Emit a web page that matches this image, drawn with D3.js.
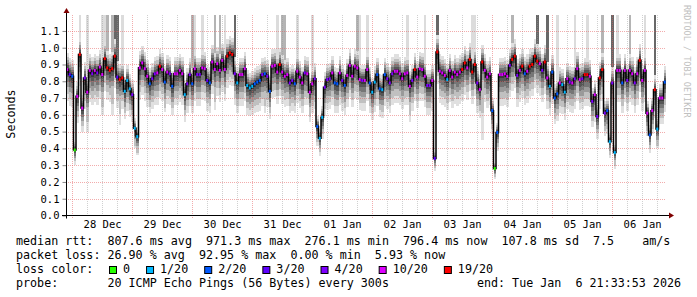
<!DOCTYPE html>
<html>
<head>
<meta charset="utf-8">
<script src="https://cdn.jsdelivr.net/npm/d3@7"></script>
<style>
  body { margin: 0; background: #fff; }
  svg { display: block; }
  text { font-family: "DejaVu Sans Mono", monospace; }
</style>
</head>
<body>
<svg id="chart"></svg>
<script>
// one value per hour, 240 hours ending at endTime (median rtt in seconds)
const medianRtt = [
  0.87,0.84,0.83,0.39,0.71,0.96,0.64,0.82,0.735,0.865,0.845,0.865,0.85,0.885,0.84,0.935,0.88,0.865,0.875,0.95,
  0.825,0.81,0.82,0.74,0.805,0.755,0.72,0.52,0.47,0.88,0.91,0.875,0.83,0.785,0.815,0.845,0.85,0.89,0.87,0.795,
  0.855,0.845,0.77,0.845,0.845,0.865,0.845,0.72,0.785,0.84,0.785,0.875,0.84,0.84,0.88,0.875,0.805,0.79,0.915,0.87,
  0.905,0.865,0.925,0.87,0.95,0.97,0.96,0.845,0.79,0.84,0.84,0.875,0.775,0.76,0.77,0.785,0.795,0.805,0.84,0.845,
  0.83,0.74,0.89,0.895,0.855,0.9,0.855,0.83,0.84,0.79,0.805,0.785,0.86,0.825,0.79,0.85,0.845,0.735,0.785,0.815,
  0.53,0.46,0.585,0.765,0.81,0.815,0.85,0.79,0.785,0.85,0.805,0.775,0.835,0.895,0.83,0.89,0.88,0.81,0.805,0.805,
  0.87,0.79,0.735,0.795,0.84,0.755,0.75,0.84,0.815,0.79,0.845,0.86,0.86,0.845,0.815,0.845,0.85,0.77,0.805,0.87,
  0.825,0.875,0.87,0.83,0.775,0.775,0.805,0.34,0.975,0.86,0.85,0.835,0.81,0.865,0.825,0.855,0.84,0.855,0.87,0.91,
  0.88,0.93,0.855,0.9,0.79,0.75,0.915,0.865,0.825,0.845,0.625,0.28,0.495,0.84,0.84,0.845,0.83,0.895,0.93,0.95,
  0.835,0.865,0.89,0.845,0.86,0.89,0.9,0.95,0.92,0.905,0.865,0.915,0.82,0.77,0.855,0.7,0.725,0.79,0.78,0.735,
  0.815,0.795,0.79,0.815,0.875,0.81,0.815,0.84,0.84,0.83,0.68,0.72,0.59,0.82,0.87,0.61,0.625,0.44,0.79,0.375,
  0.865,0.865,0.79,0.865,0.805,0.865,0.845,0.79,0.845,0.925,0.805,0.865,0.61,0.48,0.625,0.75,0.515,0.70,0.70,0.795
];

// lost pings out of 20 for each hour
const lossCount = [
  10,3,2,0,10,19,10,4,10,10,4,10,4,10,10,19,19,19,19,19,
  3,19,19,1,1,1,4,1,1,10,10,10,10,2,4,4,10,19,10,2,
  10,4,2,10,10,10,10,1,4,4,2,10,4,4,10,10,3,2,10,10,
  10,10,10,10,19,19,19,4,1,10,10,10,1,1,1,2,2,2,4,2,
  4,2,10,10,10,19,10,10,10,4,4,2,10,10,10,4,10,10,10,4,
  2,1,1,4,4,4,10,2,2,10,4,2,10,10,10,10,10,10,4,10,
  10,2,1,1,2,2,1,2,4,4,4,10,10,10,10,10,10,10,4,19,
  10,10,10,10,4,4,10,3,19,10,10,10,1,10,10,10,10,10,19,19,
  10,19,19,19,4,10,19,10,10,10,2,0,2,10,10,10,10,4,19,19,
  4,10,19,2,10,19,19,19,19,10,4,19,10,1,2,2,2,10,1,1,
  10,4,10,4,10,10,4,19,19,10,4,10,4,19,19,4,2,1,4,1,
  10,10,2,10,4,10,10,4,10,19,10,10,10,2,10,19,1,10,10,2
];

// hours where the slowest pings reach the top of the graph, and how many of them
const spikeHours = [5,8,14,15,16,18,19,20,22,50,51,54,59,61,63,67,84,86,87,92,98,116,117,120,136,143,148,162,163,178,188,192,196,203,208,214,218,220,225,231,235];
const spikeShade = [0,0,0,0,1,1,2,2,0,1,0,0,1,1,0,2,0,1,1,0,0,1,0,0,0,0,2,0,0,1,2,2,0,0,0,1,2,0,1,0,2];

// hours where the fastest pings fall well below the rest
const tailHours = [8,14,18,21,27,28,33,39,59,79,97,101,126,137,147,166,172,195,212,217,219,233,236];
const tailRtt = [0.5,0.6,0.6,0.54,0.4,0.36,0.64,0.62,0.63,0.61,0.56,0.38,0.61,0.56,0.32,0.45,0.42,0.57,0.5,0.36,0.28,0.4,0.4];

const yTicks = [0.0,0.1,0.2,0.3,0.4,0.5,0.6,0.7,0.8,0.9,1.0,1.1];
const lossLevels = [0, 1, 2, 3, 4, 10, 19];
const lossLabels = ["0", "1/20", "2/20", "3/20", "4/20", "10/20", "19/20"];
const lossColors = ["#26ff00", "#00b8ff", "#0059ff", "#5e00ff", "#7e00ff", "#dd00ff", "#ff0000"];

const legendLines = [
  "median rtt:  807.6 ms avg  971.3 ms max  276.1 ms min  796.4 ms now  107.8 ms sd  7.5    am/s",
  "packet loss: 26.90 % avg  92.95 % max  0.00 % min  5.93 % now",
  "loss color:",
  "probe:       20 ICMP Echo Pings (56 Bytes) every 300s"
];
const endLabel = "end: Tue Jan  6 21:33:53 2026";
const endTime = new Date(Date.UTC(2026, 0, 6, 21, 33, 53));
const hour = 3600 * 1000;

// keep runs of spaces in the monospaced legend
const keepSpaces = s => s.replace(/ /g, '\u00a0');

class smokechart {

  constructor(_config) {
    this.config = {
      parentElement: _config.parentElement,
      containerWidth: _config.containerWidth || 697,
      containerHeight: _config.containerHeight || 297,
      plot: {left: 66, right: 666, top: 15, bottom: 215.5}
    };
    this.initVis();
  }

  initVis() {
    let vis = this;
    const p = vis.config.plot;

    vis.svg = d3.select(vis.config.parentElement)
      .attr('width', vis.config.containerWidth)
      .attr('height', vis.config.containerHeight);

    vis.startTime = new Date(+endTime - medianRtt.length * hour);

    vis.xScale = d3.scaleTime()
      .domain([vis.startTime, endTime])
      .range([p.left, p.right]);

    vis.yScale = d3.scaleLinear()
      .domain([0, 1.195])
      .range([p.bottom, p.top]);

    vis.data = medianRtt.map((v, i) => ({
      t0: new Date(+vis.startTime + i * hour),
      t1: new Date(+vis.startTime + (i + 1) * hour),
      v: v,
      loss: lossCount[i],
      tail: tailHours.indexOf(i) >= 0 ? tailRtt[tailHours.indexOf(i)] : null
    }));

    vis.renderSmoke();
    vis.renderGrid();
    vis.renderMedian();
    vis.renderAxes();
    vis.renderLegend();
  }

  renderSmoke() {
    let vis = this;
    const x = vis.xScale, y = vis.yScale;
    const top = y.domain()[1];

    // sorted pings drawn as nested bands, lightest (outer pings) first
    const below = [0.19, 0.145, 0.105, 0.072, 0.044, 0.02];
    const above = [0.10, 0.075, 0.055, 0.04, 0.025, 0.012];
    const grays = ['#e0e0e0', '#c0c0c0', '#9a9a9a', '#767676', '#565656', '#3a3a3a'];
    const spikeGrays = ['#dcdcdc', '#b4b4b4', '#686868'];

    const smoke = vis.svg.append('g').attr('shape-rendering', 'crispEdges');
    const spread = d => Math.min(1, d.v / 0.85);

    smoke.selectAll('.spike')
      .data(spikeHours.map((h, i) => ({d: vis.data[h], shade: spikeShade[i]})))
      .enter()
      .append('rect')
        .attr('x', s => x(s.d.t0))
        .attr('width', s => x(s.d.t1) - x(s.d.t0))
        .attr('y', y(top))
        .attr('height', s => y(Math.min(top, s.d.v + above[0] * spread(s.d))) - y(top))
        .attr('fill', s => spikeGrays[s.shade]);

    grays.forEach((g, j) => {
      smoke.selectAll('.band' + j)
        .data(vis.data)
        .enter()
        .append('rect')
          .attr('x', d => x(d.t0))
          .attr('width', d => x(d.t1) - x(d.t0))
          .attr('y', d => y(Math.min(top, d.v + above[j] * spread(d))))
          .attr('height', d => {
            let lo = d.v - below[j] * spread(d);
            if (d.tail !== null && j === 0) lo = Math.min(lo, d.tail);
            if (d.tail !== null && j === 1) lo = Math.min(lo, (d.tail + lo) / 2);
            return y(lo) - y(Math.min(top, d.v + above[j] * spread(d)));
          })
          .attr('fill', g);
    });
  }

  renderGrid() {
    let vis = this;
    const p = vis.config.plot;
    const x = vis.xScale, y = vis.yScale;
    const grid = vis.svg.append('g').attr('shape-rendering', 'crispEdges');

    const minor = d3.utcHour.every(6).range(vis.startTime, endTime).filter(t => t.getUTCHours() !== 0);
    const major = d3.utcDay.range(vis.startTime, endTime);

    grid.selectAll('.minor')
      .data(minor)
      .enter()
      .append('line')
        .attr('x1', t => Math.round(x(t)) + 0.5)
        .attr('x2', t => Math.round(x(t)) + 0.5)
        .attr('y1', p.top)
        .attr('y2', p.bottom)
        .attr('stroke', 'rgba(150,150,150,0.45)')
        .attr('stroke-dasharray', '1,1');

    grid.selectAll('.major')
      .data(major)
      .enter()
      .append('line')
        .attr('x1', t => Math.round(x(t)) + 0.5)
        .attr('x2', t => Math.round(x(t)) + 0.5)
        .attr('y1', p.top)
        .attr('y2', p.bottom + 3)
        .attr('stroke', 'rgba(230,90,90,0.5)')
        .attr('stroke-dasharray', '1,1');

    grid.selectAll('.hgrid')
      .data(yTicks.slice(1))
      .enter()
      .append('line')
        .attr('x1', p.left)
        .attr('x2', p.right)
        .attr('y1', v => Math.round(y(v)) + 0.5)
        .attr('y2', v => Math.round(y(v)) + 0.5)
        .attr('stroke', 'rgba(230,90,90,0.5)')
        .attr('stroke-dasharray', '1,1');
  }

  renderMedian() {
    let vis = this;
    const x = vis.xScale, y = vis.yScale;
    const last = vis.data[vis.data.length - 1];

    const line = d3.line()
      .x(d => x(d.t))
      .y(d => y(d.v))
      .curve(d3.curveStepAfter);

    const pts = vis.data.map(d => ({t: d.t0, v: d.v})).concat([{t: last.t1, v: last.v}]);

    vis.svg.append('path')
      .attr('d', line(pts))
      .attr('fill', 'none')
      .attr('stroke', '#000')
      .attr('stroke-width', 1.5);

    const colorFor = n => {
      let c = lossColors[0];
      lossLevels.forEach((l, i) => { if (n >= l) c = lossColors[i]; });
      return c;
    };

    // loss colour marks sit on each hourly step of the median
    vis.svg.append('g').selectAll('rect')
      .data(vis.data)
      .enter()
      .append('rect')
        .attr('x', d => (x(d.t0) + x(d.t1)) / 2 - 1)
        .attr('width', 2)
        .attr('y', d => y(d.v) - 1.5)
        .attr('height', 3)
        .attr('fill', d => colorFor(d.loss));
  }

  renderAxes() {
    let vis = this;
    const p = vis.config.plot;
    const x = vis.xScale;

    // day labels sit at noon
    const noons = d3.utcDay.range(vis.startTime, endTime).map(t => d3.utcHour.offset(t, 12))
      .filter(t => t > vis.startTime && t < endTime);

    vis.xAxis = d3.axisBottom(x)
      .tickValues(noons)
      .tickSize(0)
      .tickPadding(5.5)
      .tickFormat(d3.utcFormat('%d %b'));

    vis.yAxis = d3.axisLeft(vis.yScale)
      .tickValues(yTicks)
      .tickSize(4)
      .tickPadding(3)
      .tickFormat(d3.format('.1f'));

    const xg = vis.svg.append('g')
      .attr('transform', `translate(0,${p.bottom})`)
      .call(vis.xAxis);
    const yg = vis.svg.append('g')
      .attr('transform', `translate(${p.left + 0.5},0)`)
      .call(vis.yAxis);

    [xg, yg].forEach(g => {
      g.select('.domain').remove();
      g.selectAll('text')
        .attr('fill', '#000')
        .style('font-family', '"DejaVu Sans Mono", monospace')
        .style('font-size', '10.5px');
    });
    yg.selectAll('.tick line').attr('stroke', '#888');

    // axis lines with arrow heads
    vis.svg.append('line')
      .attr('x1', p.left + 0.5).attr('x2', p.left + 0.5)
      .attr('y1', p.bottom + 3).attr('y2', 11)
      .attr('stroke', '#000');
    vis.svg.append('line')
      .attr('x1', p.left - 4).attr('x2', p.right + 4)
      .attr('y1', p.bottom).attr('y2', p.bottom)
      .attr('stroke', '#000');
    vis.svg.append('path')
      .attr('d', `M${p.left - 2.5},13L${p.left + 3.5},13L${p.left + 0.5},8Z`)
      .attr('fill', '#7f0000');
    vis.svg.append('path')
      .attr('d', `M${p.right + 3},${p.bottom - 3}L${p.right + 3},${p.bottom + 3}L${p.right + 8},${p.bottom}Z`)
      .attr('fill', '#7f0000');

    vis.svg.append('text')
      .attr('transform', 'translate(14.5,114) rotate(-90)')
      .attr('text-anchor', 'middle')
      .style('font-size', '11.7px')
      .text('Seconds');

    vis.svg.append('text')
      .attr('transform', 'translate(684,5) rotate(90)')
      .attr('fill', '#c0c0c0')
      .style('font-size', '8.5px')
      .text('RRDTOOL / TOBI OETIKER');
  }

  renderLegend() {
    let vis = this;
    const baselines = [245, 258.8, 272.7, 286.5];
    const legend = vis.svg.append('g')
      .style('font-size', '11.7px');

    legend.selectAll('.line')
      .data(legendLines)
      .enter()
      .append('text')
        .attr('x', 16)
        .attr('y', (d, i) => baselines[i])
        .text(d => keepSpaces(d));

    legend.append('text')
      .attr('x', 681)
      .attr('y', baselines[3])
      .attr('text-anchor', 'end')
      .text(keepSpaces(endLabel));

    // loss colour swatches
    let bx = 109;
    lossLabels.forEach((lab, i) => {
      legend.append('rect')
        .attr('x', bx + 0.5).attr('y', 266.5)
        .attr('width', 7).attr('height', 7)
        .attr('fill', lossColors[i])
        .attr('stroke', '#000');
      const t = legend.append('text')
        .attr('x', bx + 14)
        .attr('y', baselines[2])
        .text(lab);
      bx = bx + 14 + t.node().getComputedTextLength() + 16;
    });
  }
}

new smokechart({parentElement: '#chart'});
</script>
</body>
</html>
